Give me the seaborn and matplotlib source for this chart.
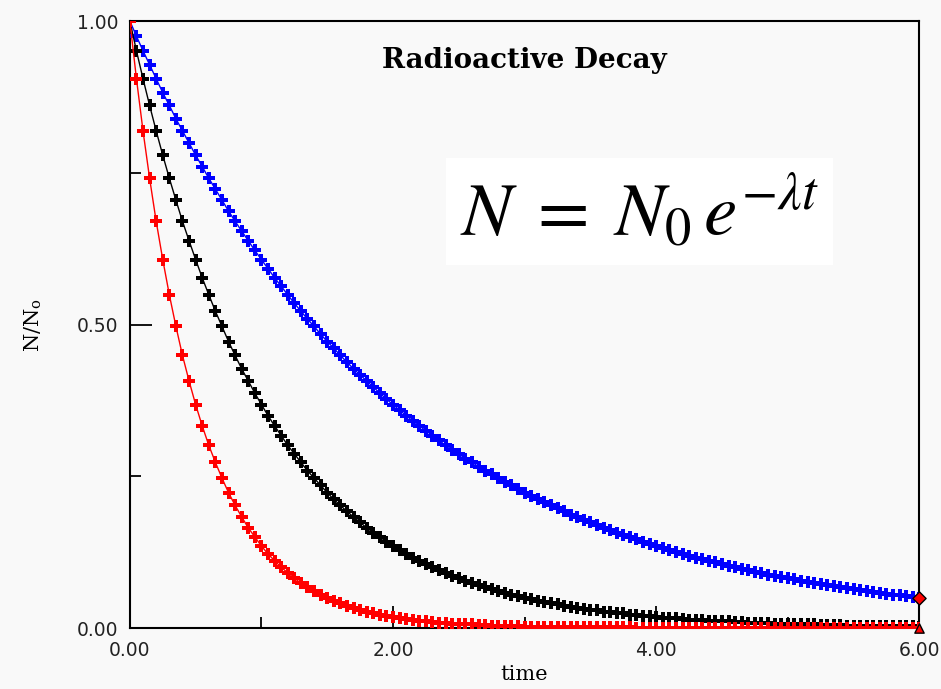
"""
Radioactive decay chart: N/No against time for three decay constants
"""

import matplotlib
matplotlib.use("Agg")
import matplotlib.pyplot as plt
import seaborn as sns
from matplotlib.ticker import MultipleLocator, FormatStrFormatter

# ---------- data ----------
time_values = [
    0.00, 0.05, 0.10, 0.15, 0.20, 0.25, 0.30, 0.35, 0.40, 0.45,
    0.50, 0.55, 0.60, 0.65, 0.70, 0.75, 0.80, 0.85, 0.90, 0.95,
    1.00, 1.05, 1.10, 1.15, 1.20, 1.25, 1.30, 1.35, 1.40, 1.45,
    1.50, 1.55, 1.60, 1.65, 1.70, 1.75, 1.80, 1.85, 1.90, 1.95,
    2.00, 2.05, 2.10, 2.15, 2.20, 2.25, 2.30, 2.35, 2.40, 2.45,
    2.50, 2.55, 2.60, 2.65, 2.70, 2.75, 2.80, 2.85, 2.90, 2.95,
    3.00, 3.05, 3.10, 3.15, 3.20, 3.25, 3.30, 3.35, 3.40, 3.45,
    3.50, 3.55, 3.60, 3.65, 3.70, 3.75, 3.80, 3.85, 3.90, 3.95,
    4.00, 4.05, 4.10, 4.15, 4.20, 4.25, 4.30, 4.35, 4.40, 4.45,
    4.50, 4.55, 4.60, 4.65, 4.70, 4.75, 4.80, 4.85, 4.90, 4.95,
    5.00, 5.05, 5.10, 5.15, 5.20, 5.25, 5.30, 5.35, 5.40, 5.45,
    5.50, 5.55, 5.60, 5.65, 5.70, 5.75, 5.80, 5.85, 5.90, 5.95,
    6.00,
]

# slow decay (blue)
blue_values = [
    1.000, 0.975, 0.951, 0.928, 0.905, 0.882, 0.861, 0.839, 0.819, 0.799,
    0.779, 0.760, 0.741, 0.723, 0.705, 0.687, 0.670, 0.654, 0.638, 0.622,
    0.607, 0.592, 0.577, 0.563, 0.549, 0.535, 0.522, 0.509, 0.497, 0.484,
    0.472, 0.461, 0.449, 0.438, 0.427, 0.417, 0.407, 0.397, 0.387, 0.377,
    0.368, 0.359, 0.350, 0.341, 0.333, 0.325, 0.317, 0.309, 0.301, 0.294,
    0.287, 0.279, 0.273, 0.266, 0.259, 0.253, 0.247, 0.241, 0.235, 0.229,
    0.223, 0.218, 0.212, 0.207, 0.202, 0.197, 0.192, 0.187, 0.183, 0.178,
    0.174, 0.170, 0.165, 0.161, 0.157, 0.153, 0.150, 0.146, 0.142, 0.139,
    0.135, 0.132, 0.129, 0.126, 0.122, 0.119, 0.116, 0.114, 0.111, 0.108,
    0.105, 0.103, 0.100, 0.098, 0.095, 0.093, 0.091, 0.088, 0.086, 0.084,
    0.082, 0.080, 0.078, 0.076, 0.074, 0.072, 0.071, 0.069, 0.067, 0.066,
    0.064, 0.062, 0.061, 0.059, 0.058, 0.056, 0.055, 0.054, 0.052, 0.051,
    0.050,
]

# medium decay (black)
black_values = [
    1.000, 0.951, 0.905, 0.861, 0.819, 0.779, 0.741, 0.705, 0.670, 0.638,
    0.607, 0.577, 0.549, 0.522, 0.497, 0.472, 0.449, 0.427, 0.407, 0.387,
    0.368, 0.350, 0.333, 0.317, 0.301, 0.287, 0.273, 0.259, 0.247, 0.235,
    0.223, 0.212, 0.202, 0.192, 0.183, 0.174, 0.165, 0.157, 0.150, 0.142,
    0.135, 0.129, 0.122, 0.116, 0.111, 0.105, 0.100, 0.095, 0.091, 0.086,
    0.082, 0.078, 0.074, 0.071, 0.067, 0.064, 0.061, 0.058, 0.055, 0.052,
    0.050, 0.047, 0.045, 0.043, 0.041, 0.039, 0.037, 0.035, 0.033, 0.032,
    0.030, 0.029, 0.027, 0.026, 0.025, 0.024, 0.022, 0.021, 0.020, 0.019,
    0.018, 0.017, 0.017, 0.016, 0.015, 0.014, 0.014, 0.013, 0.012, 0.012,
    0.011, 0.011, 0.010, 0.010, 0.009, 0.009, 0.008, 0.008, 0.007, 0.007,
    0.007, 0.006, 0.006, 0.006, 0.006, 0.005, 0.005, 0.005, 0.005, 0.004,
    0.004, 0.004, 0.004, 0.004, 0.003, 0.003, 0.003, 0.003, 0.003, 0.003,
    0.002,
]

# fast decay (red)
red_values = [
    1.000, 0.905, 0.819, 0.741, 0.670, 0.607, 0.549, 0.497, 0.449, 0.407,
    0.368, 0.333, 0.301, 0.273, 0.247, 0.223, 0.202, 0.183, 0.165, 0.150,
    0.135, 0.122, 0.111, 0.100, 0.091, 0.082, 0.074, 0.067, 0.061, 0.055,
    0.050, 0.045, 0.041, 0.037, 0.033, 0.030, 0.027, 0.025, 0.022, 0.020,
    0.018, 0.017, 0.015, 0.014, 0.012, 0.011, 0.010, 0.009, 0.008, 0.007,
    0.007, 0.006, 0.006, 0.005, 0.005, 0.004, 0.004, 0.003, 0.003, 0.003,
    0.002, 0.002, 0.002, 0.002, 0.002, 0.001, 0.001, 0.001, 0.001, 0.001,
    0.001, 0.001, 0.001, 0.001, 0.001, 0.001, 0.001, 0.000, 0.000, 0.000,
    0.000, 0.000, 0.000, 0.000, 0.000, 0.000, 0.000, 0.000, 0.000, 0.000,
    0.000, 0.000, 0.000, 0.000, 0.000, 0.000, 0.000, 0.000, 0.000, 0.000,
    0.000, 0.000, 0.000, 0.000, 0.000, 0.000, 0.000, 0.000, 0.000, 0.000,
    0.000, 0.000, 0.000, 0.000, 0.000, 0.000, 0.000, 0.000, 0.000, 0.000,
    0.000,
]

series_colors = ['#0000ff', '#000000', '#ff0000']

# ---------- figure ----------
sns.set_theme(style='white')
plt.rcParams['font.family'] = ['DejaVu Sans']
plt.rcParams['mathtext.fontset'] = 'stix'

bg = '#f9f9f9'
fig = plt.figure(figsize=(9.41, 6.89), dpi=100, facecolor=bg)
ax = fig.add_axes([0.138, 0.0885, 0.839, 0.881], facecolor=bg)

for vals, col in zip([blue_values, black_values, red_values], series_colors):
    sns.lineplot(x=time_values, y=vals, color=col, linewidth=1.0,
                 marker='P', markersize=9, markeredgewidth=0,
                 ax=ax, zorder=3)

# end-point markers
ax.scatter([time_values[-1]], [blue_values[-1]], marker='D', s=45,
           color='#ff0000', edgecolors='black', linewidths=1.0, zorder=5,
           clip_on=False)
ax.scatter([time_values[-1]], [red_values[-1]], marker='^', s=45,
           color='#ff0000', edgecolors='black', linewidths=1.0, zorder=5,
           clip_on=False)

ax.set_xlim(0, 6)
ax.set_ylim(0, 1)

for s in ax.spines.values():
    s.set_color('black')
    s.set_linewidth(1.5)
    s.set_visible(True)

ax.xaxis.set_major_locator(MultipleLocator(2))
ax.xaxis.set_minor_locator(MultipleLocator(1))
ax.yaxis.set_major_locator(MultipleLocator(0.5))
ax.yaxis.set_minor_locator(MultipleLocator(0.25))
ax.xaxis.set_major_formatter(FormatStrFormatter('%.2f'))
ax.yaxis.set_major_formatter(FormatStrFormatter('%.2f'))

ax.tick_params(which='major', direction='in', length=16, width=1.3,
               color='black', labelsize=13.5, labelcolor='#222222',
               bottom=True, left=True, top=False, right=False)
ax.tick_params(axis='y', which='major', pad=8)
ax.tick_params(axis='x', which='major', pad=9)
ax.tick_params(which='minor', direction='in', length=8, width=1.3,
               color='black', bottom=True, left=True, top=False, right=False)

ax.set_xlabel('time', fontsize=15, family='DejaVu Serif', color='black',
              labelpad=4)
ax.set_ylabel(r'N/N$_\mathregular{o}$', fontsize=15, family='DejaVu Serif',
              color='black', labelpad=24)

ax.text(0.5, 0.935, 'Radioactive Decay', transform=ax.transAxes,
        ha='center', va='center', fontsize=20, fontweight='bold',
        family='DejaVu Serif', color='black')

# equation in a white box
ax.text(0.418, 0.686, r'$N\;=\;N_0\,e^{-\lambda t}$', transform=ax.transAxes,
        ha='left', va='center', fontsize=54, color='black',
        bbox=dict(facecolor='white', edgecolor='none', pad=10))

fig.savefig('out.png', dpi=100, facecolor=bg)
